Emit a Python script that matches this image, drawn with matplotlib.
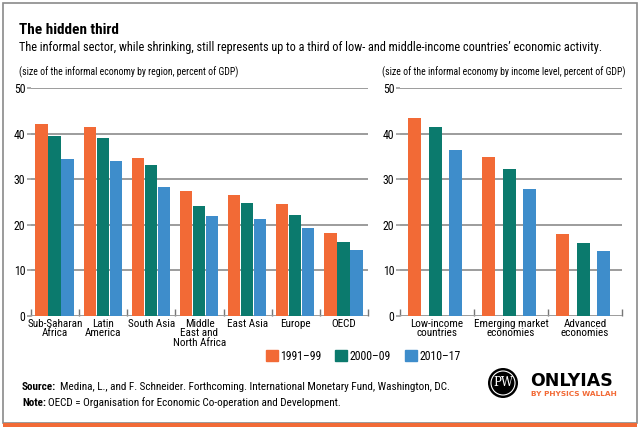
import matplotlib
matplotlib.use("Agg")
import matplotlib.pyplot as plt
import matplotlib.patches as mpatches
import numpy as np

plt.rcParams['font.family'] = ['Roboto Condensed', 'DejaVu Sans']

# data
regions = ['Sub-Saharan\nAfrica', 'Latin\nAmerica', 'South Asia', 'Middle\nEast and\nNorth Africa',
           'East Asia', 'Europe', 'OECD']
reg_9199 = [42.1, 41.4, 34.7, 27.4, 26.5, 24.5, 18.2]
reg_0009 = [39.4, 39.0, 33.2, 24.1, 24.7, 22.1, 16.2]
reg_1017 = [34.4, 34.1, 28.2, 21.9, 21.2, 19.3, 14.5]

incomes = ['Low-income\ncountries', 'Emerging market\neconomies', 'Advanced\neconomies']
inc_9199 = [43.5, 34.8, 18.0]
inc_0009 = [41.5, 32.3, 16.0]
inc_1017 = [36.3, 27.9, 14.3]

periods = ['1991\u201399', '2000\u201309', '2010\u201317']
colors = ['#F26A36', '#0B7A6D', '#3E8DCB']
grid_c = '#9c9c9c'

W, H = 643, 430
fig = plt.figure(figsize=(W / 100, H / 100), dpi=100)


def fx(px):
    return px / W


def fy(py):
    return 1 - py / H


# frame and orange strip at the bottom
fig.patches.append(mpatches.Rectangle((fx(3), fy(423)), fx(634), fy(3) - fy(423),
                                      transform=fig.transFigure, fill=False, ec='#8a8a8a', lw=1.2))
fig.patches.append(mpatches.Rectangle((fx(3), fy(427)), fx(634), fy(423) - fy(427),
                                      transform=fig.transFigure, fc='#F26A36', ec='none'))


def draw(ax, cats, series, offs, width):
    x = np.arange(len(cats))
    for k, (vals, c) in enumerate(zip(series, colors)):
        ax.bar(x + offs[k], vals, width=width, color=c, zorder=3)
    ax.set_xlim(0, len(cats))
    ax.set_ylim(0, 50)
    ax.set_yticks([0, 10, 20, 30, 40, 50])
    ax.yaxis.grid(True, color=grid_c, lw=1.4, zorder=0)
    ax.set_axisbelow(True)
    for s in ax.spines.values():
        s.set_visible(False)
    ax.tick_params(axis='y', length=3, width=1.2, color=grid_c, pad=1, labelsize=8.5)
    ax.set_xticks(x + 0.5)
    ax.set_xticklabels(cats, fontsize=8, linespacing=0.95)
    ax.tick_params(axis='x', length=0, pad=2)
    ax.set_xticks(np.arange(len(cats) + 1), minor=True)
    ax.tick_params(axis='x', which='minor', direction='in', length=5, width=1, color='#777777')
    ax.patch.set_alpha(0)


ax1 = fig.add_axes([fx(31), fy(316), fx(337), fy(88) - fy(316)])
draw(ax1, regions, [reg_9199, reg_0009, reg_1017], [0.22, 0.49, 0.76], 0.255)

ax2 = fig.add_axes([fx(400), fy(316), fx(222), fy(88) - fy(316)])
draw(ax2, incomes, [inc_9199, inc_0009, inc_1017], [0.2, 0.48, 0.75], 0.172)

fig.text(fx(19), fy(30), 'The hidden third', fontsize=11, fontweight='bold', va='center')
fig.text(fx(19), fy(47), 'The informal sector, while shrinking, still represents up to a third of '
         'low- and middle-income countries\u2019 economic activity.', fontsize=8.8, va='center')
fig.text(fx(19), fy(72), '(size of the informal economy by region, percent of GDP)', fontsize=7, va='center')
fig.text(fx(625), fy(72), '(size of the informal economy by income level, percent of GDP)',
         fontsize=7, va='center', ha='right')

handles = [mpatches.Patch(color=c, label=p) for c, p in zip(colors, periods)]
fig.legend(handles=handles, loc='center', bbox_to_anchor=(fx(363), fy(356)), ncol=3, frameon=False,
           fontsize=8.5, handlelength=1.0, handleheight=1.0, handletextpad=0.2, columnspacing=1.2)

t1 = fig.text(fx(22), fy(387), 'Source:', fontsize=8, fontweight='bold', va='center')
t2 = fig.text(fx(22), fy(403), 'Note:', fontsize=8, fontweight='bold', va='center')
fig.canvas.draw()
r = fig.canvas.get_renderer()
b1 = t1.get_window_extent(r)
b2 = t2.get_window_extent(r)
fig.text((b1.x1 + 4) / W, fy(387), 'Medina, L., and F. Schneider. Forthcoming. International Monetary Fund, Washington, DC.',
         fontsize=8, va='center')
fig.text((b2.x1 + 2) / W, fy(403), 'OECD = Organisation for Economic Co-operation and Development.',
         fontsize=8, va='center')

# logo
fig.patches.append(mpatches.Ellipse((fx(503), fy(383)), fx(30), 30 / H, transform=fig.transFigure,
                                    fc='black', ec='none'))
fig.patches.append(mpatches.Ellipse((fx(503), fy(383)), fx(24), 24 / H, transform=fig.transFigure,
                                    fc='none', ec='white', lw=0.8))
fig.text(fx(503), fy(383), 'PW', color='white', fontsize=8.5, family='DejaVu Serif', ha='center', va='center')
fig.text(fx(530), fy(381), 'ONLYIAS', fontsize=12.5, fontweight='bold', family='DejaVu Sans', va='center')
fig.text(fx(531), fy(394), 'BY PHYSICS WALLAH', fontsize=5.3, fontweight='bold', family='DejaVu Sans',
         color='#F26A36', va='center')

fig.savefig('out.png', dpi=100)
